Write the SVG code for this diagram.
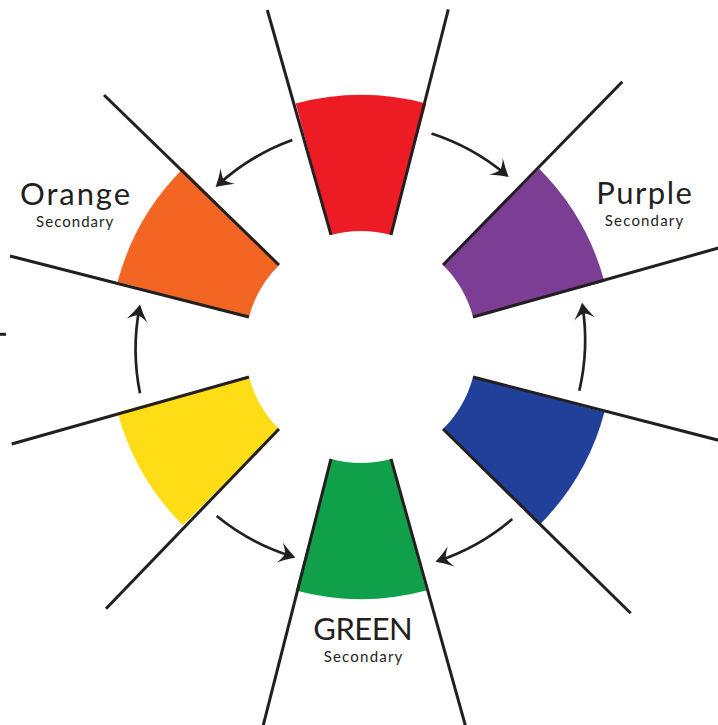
<svg xmlns="http://www.w3.org/2000/svg" width="718" height="725" viewBox="0 0 718 725">
<style>
.edge{stroke:#231f20;stroke-width:3;fill:none;stroke-linecap:butt}
.arc{stroke:#231f20;stroke-width:2.7;fill:none;marker-end:url(#head)}
.name{font-family:Lato,"Open Sans",sans-serif;font-size:31px;fill:#231f20;text-anchor:middle}
.sub{font-family:Lato,"Open Sans",sans-serif;font-size:15px;fill:#231f20;text-anchor:middle}
</style>
<defs>
<marker id="head" markerUnits="userSpaceOnUse" viewBox="-15 -12 19 24" refX="0" refY="0" markerWidth="19" markerHeight="24" orient="auto" overflow="visible">
<path d="M3.5,0 Q-4,-3.8 -13,-10.5 Q-8.5,-4.5 -7.5,0 Q-8.5,4.5 -13,10.5 Q-4,3.8 3.5,0 Z" fill="#231f20"/>
</marker>
</defs>
<rect width="718" height="725" fill="#ffffff"/>

<g id="red">
<path d="M295.78,103.59 A252,252 0 0 1 426.22,103.59 L391.02,234.95 A116,116 0 0 0 330.98,234.95 Z" fill="#ed1c24"/>
<line class="edge" x1="330.98" y1="234.95" x2="267.3" y2="10"/>
<line class="edge" x1="391.02" y1="234.95" x2="448.3" y2="9.3"/>
</g>

<g id="purple">
<path d="M539.19,168.81 A252,252 0 0 1 604.41,281.78 L473.05,316.98 A116,116 0 0 0 443.02,264.98 Z" fill="#7c3d95"/>
<line class="edge" x1="443.02" y1="264.98" x2="622.3" y2="81.7"/>
<line class="edge" x1="473.05" y1="316.98" x2="720" y2="247.6"/>
<text class="name" x="644" y="204" textLength="95.7" lengthAdjust="spacing">Purple</text>
<text class="sub" x="644" y="225.5" textLength="78.3" lengthAdjust="spacing">Secondary</text>
</g>

<g id="blue">
<path d="M604.41,412.22 A252,252 0 0 1 539.19,525.19 L443.02,429.02 A116,116 0 0 0 473.05,377.02 Z" fill="#21409a"/>
<line class="edge" x1="473.05" y1="377.02" x2="720" y2="440.6"/>
<line class="edge" x1="443.02" y1="429.02" x2="630.7" y2="613.3"/>
</g>

<g id="green">
<path d="M426.22,590.41 A252,252 0 0 1 295.78,590.41 L330.98,458.95 A116,116 0 0 0 391.02,458.95 Z" fill="#10a049"/>
<line class="edge" x1="391.02" y1="458.95" x2="465.8" y2="727"/>
<line class="edge" x1="330.98" y1="458.95" x2="262.8" y2="727"/>
<text class="name" x="363" y="640" textLength="99.4" lengthAdjust="spacing">GREEN</text>
<text class="sub" x="363" y="662.3" textLength="78.7" lengthAdjust="spacing">Secondary</text>
</g>

<g id="yellow">
<path d="M182.81,525.19 A252,252 0 0 1 117.59,412.22 L248.95,377.02 A116,116 0 0 0 278.98,429.02 Z" fill="#fedd17"/>
<line class="edge" x1="278.98" y1="429.02" x2="106" y2="608.7"/>
<line class="edge" x1="248.95" y1="377.02" x2="11.7" y2="444"/>
</g>

<g id="orange">
<path d="M117.59,281.78 A252,252 0 0 1 182.81,168.81 L278.98,264.98 A116,116 0 0 0 248.95,316.98 Z" fill="#f26522"/>
<line class="edge" x1="248.95" y1="316.98" x2="10" y2="256"/>
<line class="edge" x1="278.98" y1="264.98" x2="104" y2="95"/>
<text class="name" x="75" y="205" textLength="110" lengthAdjust="spacing">Orange</text>
<text class="sub" x="74.7" y="226.7" textLength="77.3" lengthAdjust="spacing">Secondary</text>
</g>

<g id="tick">
<line class="edge" x1="0" y1="334.3" x2="6" y2="334.3" stroke-width="2.5"/>
</g>

<g id="connectors">
<path class="arc" d="M292.3,140 A223,223 0 0 0 218.2,184.7"/>
<path class="arc" d="M431.5,133.5 A223,223 0 0 1 506,174.7"/>
<path class="arc" d="M579.3,390.7 A223,223 0 0 0 582.6,306.2"/>
<path class="arc" d="M512.3,519 A223,223 0 0 1 438.8,560.7"/>
<path class="arc" d="M216.7,516 A223,223 0 0 0 292.1,556.4"/>
<path class="arc" d="M140,393.3 A223,223 0 0 1 139.4,308"/>
</g>
</svg>
